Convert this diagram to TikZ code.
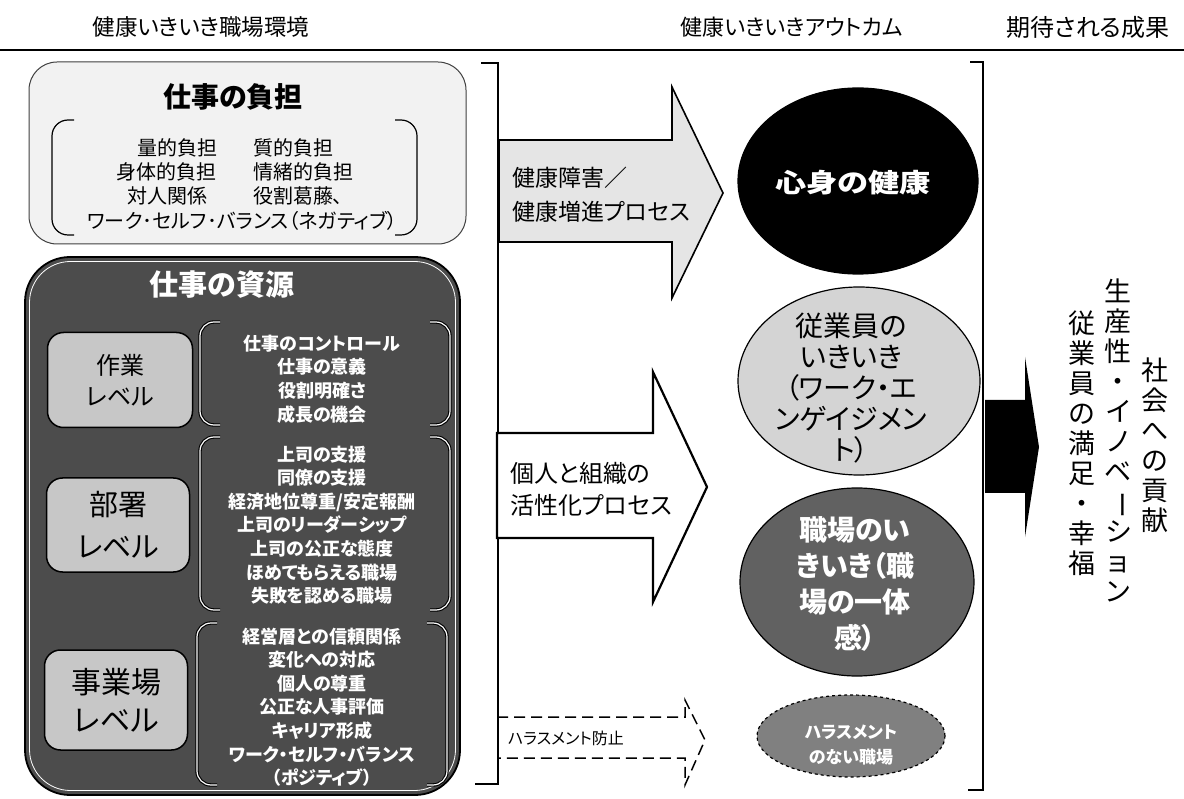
\documentclass[tikz,border=0pt]{standalone}
\usepackage{fontspec}
\setmainfont{Noto Sans CJK JP}[RawFeature=+palt]
\usetikzlibrary{shapes.geometric}
\definecolor{burdenfill}{gray}{0.95}
\definecolor{resfill}{gray}{0.30}
\definecolor{lvlfill}{gray}{0.78}
\definecolor{arrowfill}{gray}{0.90}
\definecolor{efill}{gray}{0.83}
\definecolor{edark}{gray}{0.38}
\definecolor{eharass}{gray}{0.50}
\tikzset{
  txt/.style={inner sep=0pt, outer sep=0pt},
  hdr/.style={txt, font=\fontsize{22.5}{22.5}\selectfont},
  bl/.style={txt, font=\fontsize{20}{20}\selectfont},
  grptxt/.style={txt, align=center, text=white, font=\fontsize{18}{23.6}\selectfont\bfseries},
  brk/.style={draw=black, line width=1.2, rounded corners=16},
  grpbrk/.style={draw=white, line width=1.2, rounded corners=14, preaction={draw=black, line width=3.4}},
  lvl/.style={draw=black, line width=1.5, fill=lvlfill, rounded corners=16, align=center, inner sep=0pt},
  bigarrow/.style={draw=black, line width=1.6, line join=miter},
  vt/.style={txt, align=center, font=\fontsize{27}{30}\selectfont},
  ell/.style={ellipse, draw=black, line width=1.2, inner sep=0pt},
}
\newcommand{\vbar}{\rotatebox[origin=c]{-90}{ー}}
\begin{document}
\begin{tikzpicture}[x=1pt,y=-1pt]
\useasboundingbox (0,0) rectangle (1184,799);
\fill[white] (0,0) rectangle (1184,799);

% headers
\node[hdr] (h1) at (201,27) {健康いきいき職場環境};
\node[hdr, font=\fontsize{22}{22}\selectfont] (h2) at (792,27) {健康いきいきアウトカム};
\node[hdr, font=\fontsize{24}{24}\selectfont] (h3) at (1088,27) {期待される成果};
\draw[line width=1.3] (0,50) -- (1184,50);

% burden box
\draw[draw=black!75, line width=1, fill=burdenfill, rounded corners=28] (29,62) rectangle (466,244);
\node[txt, font=\fontsize{28}{28}\selectfont\bfseries] (bt) at (233,97) {仕事の負担};
\draw[brk] (74,120) -- (52,120) -- (52,235) -- (74,235);
\draw[brk] (395,120) -- (417,120) -- (417,235) -- (395,235);
\node[bl] (b1) at (177,148) {量的負担};
\node[bl] (b2) at (166,172) {身体的負担};
\node[bl] (b3) at (167,196) {対人関係};
\node[bl, anchor=west] (b4) at (253,148) {質的負担};
\node[bl, anchor=west] (b5) at (253,172) {情緒的負担};
\node[bl, anchor=west] (b6) at (253,196) {役割葛藤、};
\node[bl] (b7) at (242,221) {ワーク･セルフ･バランス（ネガティブ）};

% resource box
\draw[draw=black, line width=1.8, fill=resfill, rounded corners=45] (25,257) rectangle (460,795);
\draw[white, line width=0.8, rounded corners=41] (29.5,261.5) rectangle (455.5,790.5);
\node[txt, text=white, font=\fontsize{29}{29}\selectfont\bfseries] (rt) at (222,285) {仕事の資源};

\node[lvl, minimum width=145, minimum height=95, font=\fontsize{24}{31}\selectfont] (l1) at (120,380) {作業\\レベル};
\node[lvl, minimum width=143, minimum height=94, font=\fontsize{29}{42}\selectfont] (l2) at (118,525) {部署\\レベル};
\node[lvl, minimum width=143, minimum height=100, font=\fontsize{30}{38}\selectfont] (l3) at (116,700) {事業場\\レベル};

\draw[grpbrk] (220,322) -- (200,322) -- (200,425) -- (220,425);
\draw[grpbrk] (430,322) -- (450,322) -- (450,425) -- (430,425);
\draw[grpbrk] (220,437) -- (200,437) -- (200,610) -- (220,610);
\draw[grpbrk] (430,437) -- (450,437) -- (450,610) -- (430,610);
\draw[grpbrk] (217,623) -- (197,623) -- (197,785) -- (217,785);
\draw[grpbrk] (427,623) -- (447,623) -- (447,785) -- (427,785);

\node[grptxt] (g1) at (322,379) {仕事のコントロール\\仕事の意義\\役割明確さ\\成長の機会};
\node[grptxt] (g2) at (322,525) {上司の支援\\同僚の支援\\経済地位尊重/安定報酬\\上司のリーダーシップ\\上司の公正な態度\\ほめてもらえる職場\\失敗を認める職場};
\node[grptxt] (g3) at (322,707) {経営層との信頼関係\\変化への対応\\個人の尊重\\公正な人事評価\\キャリア形成\\ワーク・セルフ・バランス\\（ポジティブ）};

% brackets
\draw[line width=1.8] (481,63) -- (498,63) -- (498,784) -- (475,784);
\draw[line width=1.8] (970,62) -- (983,62) -- (983,790) -- (968,790);

% arrows
\draw[bigarrow, fill=arrowfill] (499,140) -- (672,140) -- (672,87) -- (723,193) -- (672,298) -- (672,242) -- (499,242) -- cycle;
\node[txt, anchor=west, align=left, font=\fontsize{23}{34}\selectfont] (a1) at (512,195) {健康障害／\\健康増進プロセス};
\draw[bigarrow, fill=white, line width=2.2] (497,433) -- (653,433) -- (653,372) -- (707,487) -- (653,602) -- (653,538) -- (497,538) -- cycle;
\node[txt, anchor=west, align=left, font=\fontsize{24}{32}\selectfont] (a2) at (510,489) {個人と組織の\\活性化プロセス};
\draw[line width=1.5, dash pattern=on 11pt off 6pt] (497,717) -- (685,717) -- (685,700) -- (705,740) -- (685,785) -- (685,758) -- (497,758);
\node[txt, anchor=west, font=\fontsize{16}{16}\selectfont] (a3) at (508,738) {ハラスメント防止};
\fill[black] (985,400) -- (1025,400) -- (1025,357) -- (1039,447) -- (1025,537) -- (1025,493) -- (985,493) -- cycle;

% ellipses
\node[ell, fill=black, minimum width=240, minimum height=186] (e1) at (858,181) {};
\node[txt, text=white, font=\fontsize{26}{26}\selectfont\bfseries] (t1) at (853,183) {\scalebox{1.2}[1]{心身の健康}};
\node[ell, fill=efill, minimum width=242, minimum height=188] (e2) at (859,381) {};
\node[txt, align=center, font=\fontsize{28}{31}\selectfont] (t2) at (851,388) {従業員の\\いきいき\\（ワーク・エ\\ンゲイジメン\\ト）};
\node[ell, fill=edark, minimum width=234, minimum height=188] (e3) at (857,582) {};
\node[txt, align=center, text=white, font=\fontsize{28}{36}\selectfont\bfseries] (t3) at (855,584) {職場のい\\きいき（職\\場の一体\\感）};
\node[ell, fill=eharass, dashed, minimum width=188, minimum height=82] (e4) at (851,736) {};
\node[txt, align=center, text=white, font=\fontsize{17}{25}\selectfont\bfseries] (t4) at (851,745) {ハラスメント\\のない職場};

% vertical outcome texts
\node[vt] (v1) at (1118,440) {生\\産\\性\\・\\イ\\ノ\\ベ\\\vbar\\シ\\ョ\\ン};
\node[vt] (v2) at (1082,443) {従\\業\\員\\の\\満\\足\\・\\幸\\福};
\node[vt] (v3) at (1155,445) {社\\会\\へ\\の\\貢\\献};
\end{tikzpicture}
\end{document}
